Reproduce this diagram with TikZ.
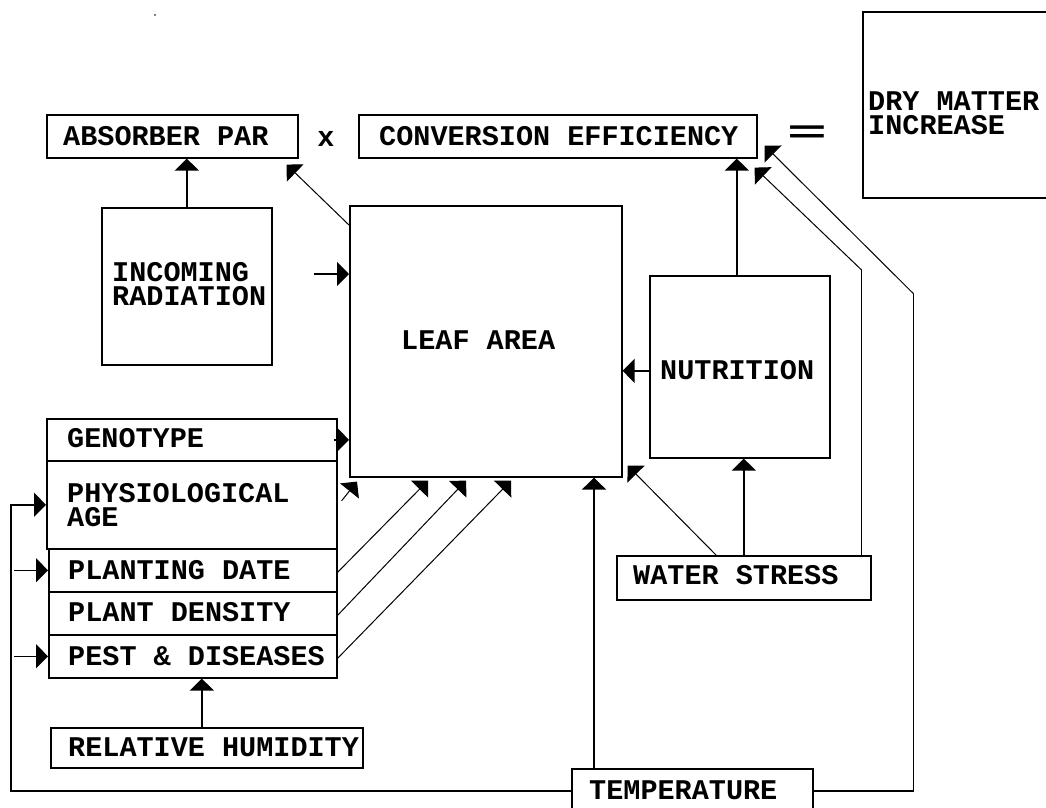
\documentclass[tikz,border=0pt]{standalone}
\usepackage{fontspec}
\usepackage{graphicx}
\setmonofont{Liberation Mono}
\usetikzlibrary{arrows.meta,calc}
\begin{document}
\begin{tikzpicture}[x=1pt,y=-1pt,
  box/.style={draw,line width=1.6pt,inner sep=0pt,anchor=north west},
  lbl/.style={font=\ttfamily\bfseries\fontsize{28.5}{24.5}\selectfont,inner sep=0pt,anchor=west,align=left},
  arr/.style={line width=1.6pt,-{Triangle[length=12pt,width=24pt]}},
  thinl/.style={line width=1pt},
  wire/.style={line width=1.6pt}
  ]
\useasboundingbox (0,0) rectangle (1046,807);
\fill (155,15) circle (0.8pt);
% boxes
\node[box,minimum width=251pt,minimum height=43pt] (abs) at (46,114) {};
\node[box,minimum width=398pt,minimum height=43pt] (conv) at (358,114) {};
\node[box,minimum width=188pt,minimum height=186pt] (dry) at (862,11) {};
\node[box,minimum width=170pt,minimum height=157pt] (rad) at (101,207) {};
\node[box,minimum width=272pt,minimum height=271pt] (leaf) at (349,205) {};
\node[box,minimum width=180pt,minimum height=182pt] (nut) at (649,275) {};
\node[box,minimum width=290pt,minimum height=42pt] (geno) at (46,418) {};
\node[box,minimum width=290pt,minimum height=88pt] (phys) at (46,460) {};
\node[box,minimum width=288pt,minimum height=43pt] (pdate) at (48,548) {};
\node[box,minimum width=288pt,minimum height=43pt] (pdens) at (48,591) {};
\node[box,minimum width=288pt,minimum height=43pt] (pest) at (48,634) {};
\node[box,minimum width=312pt,minimum height=40pt] (rh) at (50,727) {};
\node[box,minimum width=254pt,minimum height=44pt] (ws) at (616,555) {};
\node[box,minimum width=241pt,minimum height=44pt] (temp) at (571,768) {};
% labels
\node[lbl] (tabs) at (63,136) {ABSORBER PAR};
\node[lbl,anchor=center] (tx) at (326,139) {x};
\node[lbl] (tconv) at (379,136) {CONVERSION EFFICIENCY};
\node[inner sep=0pt,font=\ttfamily\bfseries\fontsize{32}{32}\selectfont] (teq) at (807,134) {\scalebox{2.1}[1]{=}};
\node[lbl] (tdry) at (868,113) {DRY MATTER\\INCREASE};
\node[lbl] (trad) at (112,284) {INCOMING\\RADIATION};
\node[lbl] (tleaf) at (401,340) {LEAF AREA};
\node[lbl] (tnut) at (660,370) {NUTRITION};
\node[lbl] (tgeno) at (67,438) {GENOTYPE};
\node[lbl] (tphys) at (67,505) {PHYSIOLOGICAL\\AGE};
\node[lbl] (tpdate) at (68,570) {PLANTING DATE};
\node[lbl] (tpdens) at (68,612) {PLANT DENSITY};
\node[lbl] (tpest) at (68,656) {PEST \& DISEASES};
\node[lbl] (trh) at (68,747) {RELATIVE HUMIDITY};
\node[lbl] (tws) at (633,575) {WATER STRESS};
\node[lbl] (ttemp) at (589,790) {TEMPERATURE};
% connectors
\draw[arr] (rad.north) -- (rad.north |- abs.south);
\draw[arr,thinl] ($(leaf.north west)+(0,20)$) -- ($(abs.south east)+(-12,6)$);
\coordinate (radin) at (314,274);
\draw[arr] (radin) -- (radin -| leaf.west);
\draw[arr] ($(nut.west)+(0,4)$) -- ($(nut.west -| leaf.east)+(0,4)$);
\coordinate (nt) at ($(nut.north)+(-3,0)$);
\draw[arr] (nt) -- (nt |- conv.south);
\draw[arr] (ws.north) -- (ws.north |- nut.south);
\draw[arr,thinl] ($(ws.north west)+(100,0)$) -- ($(leaf.south east)+(5,-12)$);
\draw[wire] ($(ws.north east)+(-10,0)$) -- ++(0,-285) coordinate (wsk);
\draw[arr,thinl] (wsk) -- ($(conv.south east)+(-3,9)$);
\draw[wire] (temp.east) -- ++(100,0) -- ++(0,-497) coordinate (tk);
\draw[arr,thinl] (tk) -- ($(conv.south east)+(7,-13)$);
\coordinate (tt) at ($(temp.north west)+(23,0)$);
\draw[arr] (tt) -- (tt |- leaf.south);
\draw[arr] (temp.west) -- ++(-560,0) |- (phys.west);
\coordinate (lin) at (14,0);
\draw[arr] (pdate.west -| lin) -- (pdate.west);
\draw[arr] (pest.west -| lin) -- (pest.west);
\coordinate (rt) at ($(rh.north)+(-5,0)$);
\draw[arr] (rt) -- (rt |- pest.south);
\draw[arr] ($(geno.east)+(-4,0)$) -- (geno.east -| leaf.west);
\draw[arr,thinl] ($(phys.east)+(4,-4)$) -- ($(leaf.south west)+(8,4)$);
\draw[arr,thinl] ($(pdate.east)+(0,2)$) -- ($(leaf.south west)+(79,3)$);
\draw[arr,thinl] ($(pdens.east)+(0,2)$) -- ($(leaf.south west)+(117,3)$);
\draw[arr,thinl] ($(pest.east)+(0,2)$) -- ($(leaf.south west)+(162,3)$);
\end{tikzpicture}
\end{document}
